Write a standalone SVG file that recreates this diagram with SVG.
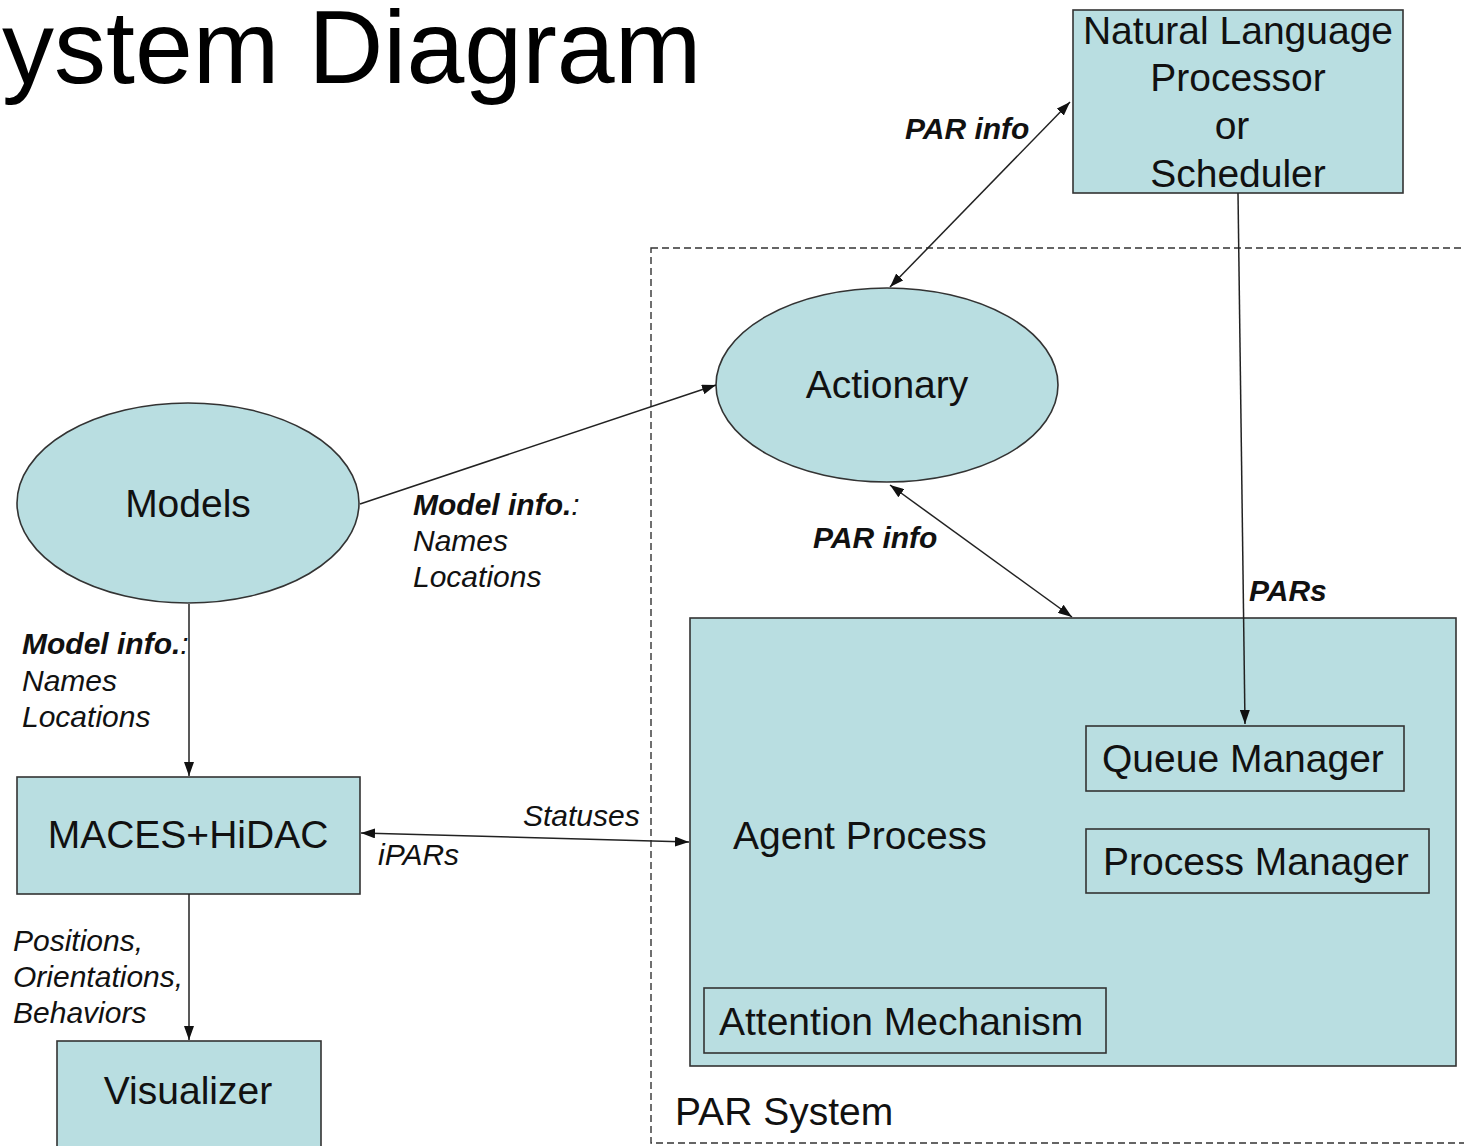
<svg xmlns="http://www.w3.org/2000/svg" width="1464" height="1146" viewBox="0 0 1464 1146">
<style>
.node{fill:#B9DEE1;stroke:#333;stroke-width:1.6}
.sub{fill:none;stroke:#333;stroke-width:1.6}
.t{font-family:"Liberation Sans",Arial,sans-serif;font-size:39px;fill:#111}
.lb{font-family:"Liberation Sans",Arial,sans-serif;font-size:30px;font-style:italic;font-weight:bold;fill:#111}
.li{font-family:"Liberation Sans",Arial,sans-serif;font-size:30px;font-style:italic;fill:#111}
.c{fill:none;stroke:#222;stroke-width:1.5}
</style>
<defs>
<marker id="ah" viewBox="0 0 14 10" refX="14" refY="5" markerWidth="14" markerHeight="10" markerUnits="userSpaceOnUse" orient="auto-start-reverse">
<path d="M0,0 L14,5 L0,10 z" fill="#111"/>
</marker>
</defs>
<rect width="1464" height="1146" fill="#fff"/>
<text x="2" y="83" font-family="Liberation Sans,Arial,sans-serif" font-size="104" fill="#000">ystem Diagram</text>

<g id="par-system">
<rect x="651" y="248" width="840" height="895" fill="none" stroke="#333" stroke-width="1.4" stroke-dasharray="7 4"/>
<text class="t" x="675" y="1125">PAR System</text>
</g>

<g id="nlp">
<rect class="node" x="1073" y="10" width="330" height="183"/>
<text class="t" x="1238" y="44" text-anchor="middle">Natural Language</text>
<text class="t" x="1238" y="91" text-anchor="middle">Processor</text>
<text class="t" x="1232" y="139" text-anchor="middle">or</text>
<text class="t" x="1238" y="187" text-anchor="middle">Scheduler</text>
</g>

<g id="actionary">
<ellipse class="node" cx="887" cy="385" rx="171" ry="97"/>
<text class="t" x="887" y="398" text-anchor="middle">Actionary</text>
</g>

<g id="models">
<ellipse class="node" cx="188" cy="503" rx="171" ry="100"/>
<text class="t" x="188" y="517" text-anchor="middle">Models</text>
</g>

<g id="maces">
<rect class="node" x="17" y="777" width="343" height="117"/>
<text class="t" x="188" y="848" text-anchor="middle">MACES+HiDAC</text>
</g>

<g id="visualizer">
<rect class="node" x="57" y="1041" width="264" height="110"/>
<text class="t" x="188" y="1104" text-anchor="middle">Visualizer</text>
</g>

<g id="agent-process">
<rect class="node" x="690" y="618" width="766" height="448"/>
<text class="t" x="733" y="849">Agent Process</text>
</g>

<g id="queue-manager">
<rect class="sub" x="1086" y="726" width="318" height="65"/>
<text class="t" x="1102" y="772">Queue Manager</text>
</g>

<g id="process-manager">
<rect class="sub" x="1086" y="829" width="343" height="64"/>
<text class="t" x="1103" y="875">Process Manager</text>
</g>

<g id="attention-mechanism">
<rect class="sub" x="704" y="988" width="402" height="65"/>
<text class="t" x="719" y="1035">Attention Mechanism</text>
</g>

<g id="connectors">
<line class="c" x1="890" y1="287" x2="1070" y2="102" marker-start="url(#ah)" marker-end="url(#ah)"/>
<line class="c" x1="1238" y1="193" x2="1245" y2="724" marker-end="url(#ah)"/>
<line class="c" x1="360" y1="504" x2="716" y2="385" marker-end="url(#ah)"/>
<line class="c" x1="890" y1="485" x2="1072" y2="617" marker-start="url(#ah)" marker-end="url(#ah)"/>
<line class="c" x1="189" y1="604" x2="189" y2="776" marker-end="url(#ah)"/>
<line class="c" x1="361" y1="833" x2="689" y2="842" marker-start="url(#ah)" marker-end="url(#ah)"/>
<line class="c" x1="189" y1="894" x2="189" y2="1040" marker-end="url(#ah)"/>
</g>

<g id="labels">
<text class="lb" x="905" y="139">PAR info</text>
<text class="lb" x="813" y="548">PAR info</text>
<text class="lb" x="1249" y="601">PARs</text>
<text x="413" y="515"><tspan class="lb">Model info.</tspan><tspan class="li">:</tspan></text>
<text class="li" x="413" y="551">Names</text>
<text class="li" x="413" y="587">Locations</text>
<text x="22" y="654"><tspan class="lb">Model info.</tspan><tspan class="li">:</tspan></text>
<text class="li" x="22" y="691">Names</text>
<text class="li" x="22" y="727">Locations</text>
<text class="li" x="523" y="826">Statuses</text>
<text class="li" x="378" y="865">iPARs</text>
<text class="li" x="13" y="951">Positions,</text>
<text class="li" x="13" y="987">Orientations,</text>
<text class="li" x="13" y="1023">Behaviors</text>
</g>
</svg>
